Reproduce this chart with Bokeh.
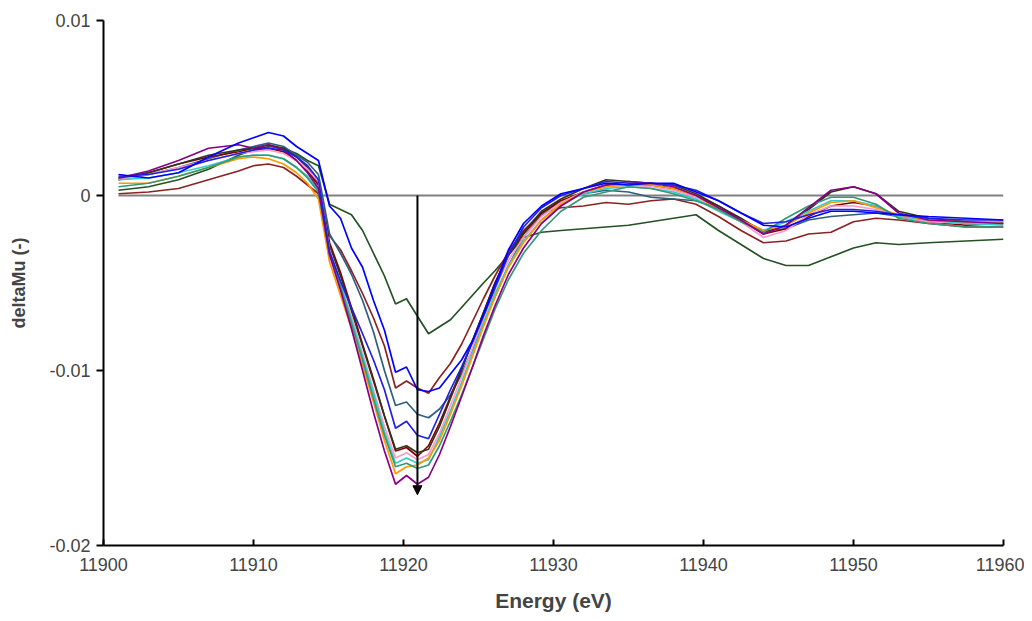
from bokeh.plotting import figure
from bokeh.models import Range1d, FixedTicker, Arrow, NormalHead
from bokeh.embed import file_html
from bokeh.resources import INLINE

# Energy grid (eV)
energy = [11901, 11903, 11905, 11907, 11909, 11910, 11911, 11912,
          11912.87, 11913.6, 11914.33, 11915.07, 11915.8, 11916.53, 11917.27, 11918.0,
          11918.73, 11919.47, 11920.2, 11920.93, 11921.67, 11922.4, 11923.13, 11923.87,
          11924.6, 11925.33,
          11926.1, 11927, 11928, 11929.2, 11930.5, 11932, 11933.5, 11935, 11936.5, 11938,
          11939.5, 11941, 11942.5, 11944, 11945.5, 11947, 11948.5, 11950, 11951.5, 11953,
          11955, 11957.5, 11960]

# deltaMu values, in units of 1e-3
s_dkgreen = [0.3, 0.5, 0.9, 1.5, 2.3, 2.6, 2.8, 2.7, 2.4, 2.0, 1.7,
             -0.5, -0.8, -1.1, -2.0, -3.3, -4.6, -6.2, -5.9, -6.9, -7.9, -7.5, -7.1, -6.4, -5.7, -5.0,
             -4.3, -3.4, -2.4, -2.1, -2.0, -1.9, -1.8, -1.7, -1.5, -1.3, -1.1, -2.0, -2.8, -3.6, -4.0,
             -4.0, -3.5, -3.0, -2.7, -2.8, -2.7, -2.6, -2.5]
s_blue1 = [1.2, 1.0, 1.3, 2.2, 3.0, 3.3, 3.6, 3.4, 2.8, 2.4, 2.0,
           -0.6, -1.3, -3.0, -4.1, -6.0, -7.7, -10.1, -9.8, -11.1, -11.2, -11.0, -10.2, -9.4, -8.3, -6.8,
           -5.1, -3.1, -1.6, -0.6, 0.1, 0.4, 0.7, 0.6, 0.7, 0.7, 0.2, -0.3, -1.0, -1.7, -1.8,
           -1.3, -0.9, -0.9, -1.0, -1.1, -1.2, -1.3, -1.4]
s_maroon1 = [0.1, 0.2, 0.4, 0.9, 1.4, 1.7, 1.8, 1.6, 1.1, 0.6, 0.1,
             -2.3, -3.1, -4.3, -5.6, -7.0, -8.6, -11.0, -10.6, -11.0, -11.3, -10.4, -9.6, -8.5, -7.2, -5.9,
             -4.6, -3.2, -2.0, -1.0, -0.7, -0.6, -0.4, -0.5, -0.3, -0.2, -0.5, -1.2, -2.0, -2.7, -2.6,
             -2.2, -2.1, -1.5, -1.3, -1.4, -1.6, -1.8, -1.8]
s_slate = [0.9, 1.2, 1.6, 2.1, 2.6, 2.8, 3.0, 2.8, 2.3, 1.9, 1.2,
           -2.2, -3.3, -4.5, -6.0, -7.8, -10.0, -12.0, -11.8, -12.5, -12.7, -12.2, -11.4, -10.2, -8.8, -7.3,
           -5.8, -4.0, -2.4, -1.1, -0.3, 0.1, 0.3, 0.2, -0.1, -0.2, -0.3, -0.7, -1.4, -2.0, -1.9,
           -1.4, -1.2, -1.1, -1.0, -1.2, -1.4, -1.6, -1.6]
s_blue2 = [1.1, 1.2, 1.5, 2.0, 2.4, 2.6, 2.7, 2.6, 2.2, 1.7, 0.9,
           -3.2, -4.9, -6.4, -7.9, -9.4, -11.1, -13.3, -12.9, -13.7, -13.9, -12.5, -11.1, -9.8, -8.4, -6.9,
           -5.3, -3.4, -1.8, -0.7, 0.0, 0.4, 0.8, 0.7, 0.7, 0.6, 0.3, -0.3, -1.0, -1.6, -1.5,
           -1.1, -0.8, -0.8, -0.9, -1.1, -1.3, -1.4, -1.4]
s_black = [1.0, 1.3, 1.8, 2.3, 2.6, 2.7, 2.9, 2.7, 2.2, 1.6, 0.7,
           -2.9, -4.6, -6.6, -8.6, -10.6, -12.6, -14.5, -14.3, -14.7, -14.5, -13.2, -11.6, -10.0, -8.3, -6.7,
           -5.0, -3.4, -2.1, -0.9, -0.2, 0.4, 0.9, 0.8, 0.7, 0.6, 0.1, -0.6, -1.3, -2.1, -1.7,
           -0.8, 0.2, 0.5, 0.1, -0.9, -1.3, -1.5, -1.5]
s_maroon2 = [0.9, 1.3, 1.8, 2.2, 2.5, 2.7, 2.7, 2.5, 2.0, 1.4, 0.6,
             -2.7, -4.4, -6.4, -8.5, -10.5, -12.6, -14.6, -14.4, -14.9, -14.3, -13.0, -11.5, -9.9, -8.3, -6.7,
             -5.0, -3.4, -2.2, -1.0, -0.3, 0.2, 0.6, 0.6, 0.6, 0.4, 0.0, -0.6, -1.4, -2.2, -1.9,
             -1.2, -0.6, -0.4, -0.6, -1.2, -1.5, -1.7, -1.6]
s_pink = [0.9, 1.2, 1.6, 2.0, 2.4, 2.5, 2.6, 2.4, 2.0, 1.5, 0.8,
          -3.1, -4.9, -6.9, -9.0, -11.1, -13.2, -15.0, -14.7, -15.1, -14.8, -13.6, -12.0, -10.4, -8.7, -7.0,
          -5.3, -3.7, -2.4, -1.2, -0.4, 0.2, 0.5, 0.6, 0.5, 0.3, -0.1, -0.7, -1.5, -2.4, -2.0,
          -1.1, -0.6, -0.6, -0.8, -1.2, -1.5, -1.6, -1.6]
s_cyan = [0.9, 1.0, 1.3, 1.7, 2.2, 2.3, 2.3, 2.1, 1.6, 1.1, 0.3,
          -3.2, -5.0, -7.1, -9.2, -11.3, -13.5, -15.3, -15.0, -15.3, -15.1, -13.8, -12.3, -10.7, -9.0, -7.3,
          -5.6, -4.0, -2.6, -1.4, -0.5, 0.1, 0.4, 0.5, 0.4, 0.2, -0.2, -0.9, -1.5, -2.0, -1.5,
          -0.9, -0.3, -0.3, -0.6, -1.2, -1.4, -1.6, -1.7]
s_orange = [0.7, 0.7, 1.1, 1.6, 2.1, 2.2, 2.1, 1.8, 1.3, 0.7, -0.2,
            -3.8, -5.7, -7.6, -9.7, -11.8, -14.0, -15.9, -15.5, -15.4, -15.0, -14.0, -12.5, -10.9, -9.2, -7.5,
            -5.8, -4.1, -2.7, -1.4, -0.5, 0.2, 0.5, 0.6, 0.6, 0.4, 0.0, -0.8, -1.4, -2.0, -1.7,
            -1.0, -0.4, -0.3, -0.7, -1.1, -1.4, -1.5, -1.5]
s_teal = [0.5, 0.7, 1.1, 1.6, 2.2, 2.3, 2.3, 2.1, 1.6, 1.0, 0.2,
          -3.3, -5.2, -7.3, -9.4, -11.6, -13.7, -15.5, -15.3, -15.6, -15.4, -14.3, -12.9, -11.4, -9.8, -8.2,
          -6.5, -4.8, -3.3, -2.0, -0.9, -0.1, 0.2, 0.5, 0.4, 0.1, -0.3, -0.8, -1.5, -2.1, -1.3,
          -0.6, -0.1, -0.1, -0.5, -1.3, -1.6, -1.8, -1.8]
s_purple = [1.0, 1.4, 2.0, 2.7, 2.9, 2.7, 2.9, 2.6, 2.0, 1.3, 0.4,
            -3.4, -5.4, -7.6, -10.0, -12.4, -14.6, -16.5, -16.0, -16.5, -16.1, -14.8, -13.2, -11.5, -9.8, -8.0,
            -6.3, -4.5, -3.0, -1.6, -0.6, 0.2, 0.6, 0.8, 0.7, 0.5, 0.0, -0.7, -1.4, -2.2, -1.7,
            -0.7, 0.3, 0.5, 0.1, -1.0, -1.4, -1.5, -1.6]

series = [
    (s_dkgreen, "#245224"),
    (s_maroon1, "#8B2323"),
    (s_slate, "#2F5F80"),
    (s_maroon2, "#800000"),
    (s_black, "#33331A"),
    (s_pink, "#FF99CC"),
    (s_cyan, "#33CCCC"),
    (s_orange, "#FF9900"),
    (s_teal, "#339977"),
    (s_purple, "#880088"),
    (s_blue2, "#2020E0"),
    (s_blue1, "#0000FF"),
]

zero_x = [11901, 11960]
zero_y = [0, 0]
arrow_x = 11920.93
arrow_y_start = 0.0
arrow_y_end = -0.0171

x_ticks = [11900, 11910, 11920, 11930, 11940, 11950, 11960]
y_ticks = [-0.02, -0.01, 0.0, 0.01]
y_tick_labels = ["-0.02", "-0.01", "0", "0.01"]

W, H = 1024, 620
p = figure(width=W, height=H, output_backend="svg", toolbar_location=None,
           x_range=Range1d(11900, 11960), y_range=Range1d(-0.02, 0.01),
           min_border_left=103, min_border_right=21, min_border_top=20, min_border_bottom=75)
p.outline_line_color = None
p.grid.visible = False
p.background_fill_color = "white"

p.line(zero_x, zero_y, line_color="#808080", line_width=2)

for vals, col in series:
    assert len(vals) == len(energy)
    p.line(energy, [v / 1000 for v in vals], line_color=col, line_width=1.7)

p.add_layout(Arrow(end=NormalHead(size=9, fill_color="black", line_color="black"),
                   x_start=arrow_x, y_start=arrow_y_start, x_end=arrow_x, y_end=arrow_y_end,
                   line_color="black", line_width=2))

font = "Liberation Sans"
xa = p.xaxis[0]
xa.ticker = FixedTicker(ticks=x_ticks)
xa.major_label_overrides = {t: str(t) for t in x_ticks}
xa.axis_label = "Energy (eV)"
xa.axis_label_text_font = font
xa.axis_label_text_font_style = "bold"
xa.axis_label_text_font_size = "21px"
xa.axis_label_standoff = 15
xa.major_label_text_font = font
xa.major_label_text_font_size = "18px"
xa.major_label_standoff = 12
xa.major_tick_in = 6
xa.major_tick_out = 0
xa.minor_tick_line_color = None
xa.axis_line_width = 2
xa.major_tick_line_width = 2

ya = p.yaxis[0]
ya.ticker = FixedTicker(ticks=y_ticks)
ya.major_label_overrides = dict(zip(y_ticks, y_tick_labels))
ya.axis_label = "deltaMu (-)"
ya.axis_label_text_font = font
ya.axis_label_text_font_style = "bold"
ya.axis_label_text_font_size = "18px"
ya.axis_label_standoff = 17
ya.major_label_text_font = font
ya.major_label_text_font_size = "18px"
ya.major_label_standoff = 6
ya.major_tick_in = 0
ya.major_tick_out = 7
ya.minor_tick_line_color = None
ya.axis_line_width = 2
ya.major_tick_line_width = 2

open("out.html", "w").write(file_html(p, INLINE))
